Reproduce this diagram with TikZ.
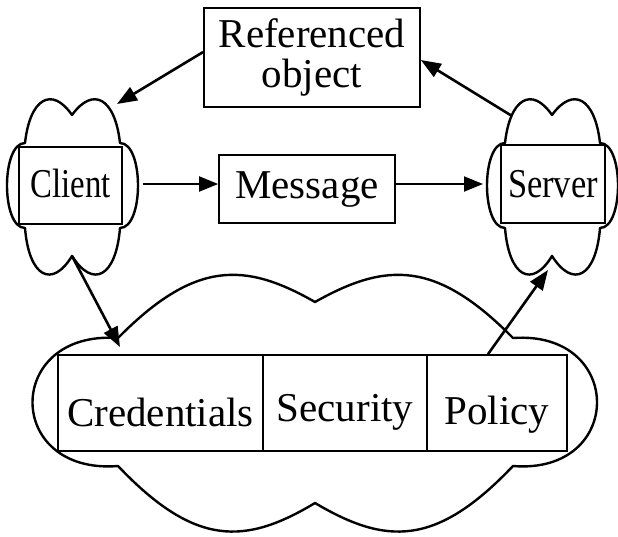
\documentclass[tikz,border=0pt]{standalone}
\usepackage{fontspec}
\usepackage{graphicx}
\setmainfont{Liberation Serif}
\usetikzlibrary{arrows.meta}
\begin{document}
\begin{tikzpicture}[x=1pt,y=-1pt,
  cloudline/.style={line width=2.4pt, line join=round},
  boxnode/.style={draw, line width=1.7pt, fill=white, inner sep=0pt, font=\fontsize{41}{40}\selectfont},
  conn/.style={line width=2.6pt, -{Triangle[length=20pt,width=15pt]}},
  thinconn/.style={line width=1.9pt, -{Triangle[length=19pt,width=15pt]}},
  smallcloud/.pic={
    \draw[cloudline] (25,143) .. controls (30,98) and (52,86) .. (72,115)
      .. controls (93,86) and (115,98) .. (120,143)
      .. controls (144,143) and (144,228) .. (120,228)
      .. controls (116,277) and (93,289) .. (72,256)
      .. controls (52,289) and (29,277) .. (25,228)
      .. controls (1,228) and (1,143) .. (25,143) -- cycle;
  }
]
\fill[white] (0,0) rectangle (618,536);
\useasboundingbox (0,0) rectangle (618,536);

% clouds
\pic at (0,0) {smallcloud};
\pic at (480,0) {smallcloud};
\draw[cloudline] (118,338) .. controls (195,260) and (245,262) .. (315,302)
  .. controls (386,262) and (436,260) .. (513,338)
  .. controls (625,330) and (625,475) .. (513,466)
  .. controls (436,547) and (386,545) .. (315,503)
  .. controls (245,545) and (195,547) .. (118,466)
  .. controls (4,475) and (4,330) .. (118,338) -- cycle;

% boxes
\node[boxnode, minimum width=216pt, minimum height=99pt, align=center] (ref) at (312,57.5) {Referenced\\object};
\node[boxnode, minimum width=176pt, minimum height=68pt, text height=27pt, text depth=9pt] (msg) at (307,189) {Message};
\node[boxnode, minimum width=103pt, minimum height=77pt, text height=27pt, text depth=4pt] (client) at (70.5,185.5) {\scalebox{0.8}[1]{Client}};
\node[boxnode, minimum width=104pt, minimum height=78pt, text height=30pt, text depth=4pt] (server) at (553,184) {\scalebox{0.84}[1]{Server}};
\node[boxnode, minimum width=205pt, minimum height=96pt, text height=46pt, text depth=0pt] (cred) at (160.5,403) {Credentials};
\node[boxnode, minimum width=164pt, minimum height=96pt, text height=36pt, text depth=0pt] (sec) at (345,403) {Security};
\node[boxnode, minimum width=140pt, minimum height=96pt, text height=42pt, text depth=0pt] (pol) at (497,403) {Policy};

% connector end points
\coordinate (cltop) at (117,104);
\coordinate (srvtop) at (512,116);
\coordinate (clout) at (143,184);
\coordinate (srvin) at (483,184);
\coordinate (cldip) at (72,256);
\coordinate (cusp) at (120,347);
\coordinate (srvbot) at (548,270);

% connectors
\draw[conn] ([yshift=5.5pt]ref.west) -- (cltop);
\draw[conn] (srvtop) -- ([yshift=-2.5pt]ref.east);
\draw[thinconn] (clout) -- ([yshift=5pt]msg.west);
\draw[thinconn] ([yshift=5pt]msg.east) -- (srvin);
\draw[conn] (cldip) -- (cusp);
\draw[conn] ([xshift=-9pt]pol.north) -- (srvbot);
\end{tikzpicture}
\end{document}
